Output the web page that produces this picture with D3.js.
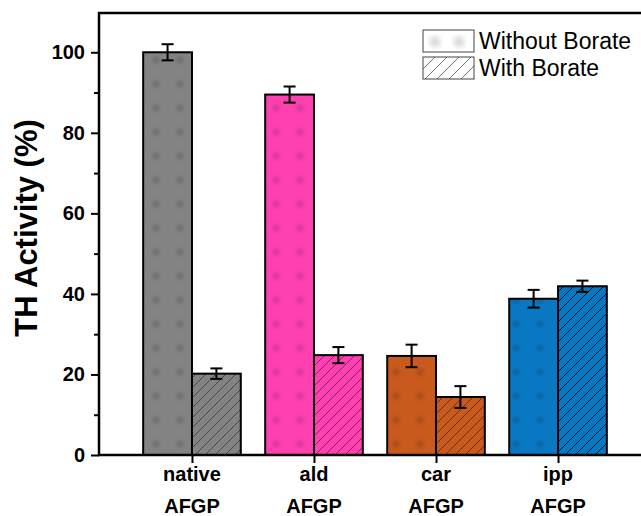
<!DOCTYPE html>
<html>
<head>
<meta charset="utf-8">
<script src="https://cdn.jsdelivr.net/npm/d3@7"></script>
<style>
  body { margin: 0; background: #fff; }
  text { font-family: "Liberation Sans", Arial, sans-serif; }
</style>
</head>
<body>
<div id="chart"></div>
<script>
var categories = ["native", "ald", "car", "ipp"];
var withoutBorate = [100, 89.5, 24.6, 38.8];
var withoutErr = [2.0, 2.0, 2.8, 2.2];
var withBorate = [20.2, 24.8, 14.4, 41.9];
var withErr = [1.3, 2.0, 2.7, 1.4];
var yTicks = [0, 20, 40, 60, 80, 100];
var colors = ["#838383", "#ff40b0", "#c85a1e", "#0a77c2"];
var hatchOpacity = [0.45, 0.45, 0.45, 0.85];

var svgWidth = 641;
var svgHeight = 516;

var svg = d3.select("#chart")
  .append("svg")
  .attr("width", svgWidth)
  .attr("height", svgHeight);

var defs = svg.append("defs");

// halftone dot pattern for "without"
var grad = defs.append("radialGradient").attr("id", "dotGrad");
grad.append("stop").attr("offset", "0%").attr("stop-color", "#000").attr("stop-opacity", 0.16);
grad.append("stop").attr("offset", "100%").attr("stop-color", "#000").attr("stop-opacity", 0);

colors.forEach(function(c, i) {
  var p = defs.append("pattern")
    .attr("id", "dots" + i)
    .attr("patternUnits", "userSpaceOnUse")
    .attr("width", 24).attr("height", 24);
  p.append("rect").attr("width", 24).attr("height", 24).attr("fill", c);
  p.append("circle").attr("cx", 12).attr("cy", 12).attr("r", 6).attr("fill", "url(#dotGrad)");

  var h = defs.append("pattern")
    .attr("id", "hatch" + i)
    .attr("patternUnits", "userSpaceOnUse")
    .attr("width", 10).attr("height", 10);
  h.append("rect").attr("width", 10).attr("height", 10).attr("fill", c);
  h.append("path")
    .attr("d", "M-1,1 l2,-2 M0,10 l10,-10 M9,11 l2,-2")
    .attr("stroke", "#000")
    .attr("stroke-opacity", hatchOpacity[i])
    .attr("stroke-width", 1);
});

var legDots = defs.append("pattern")
  .attr("id", "legDots")
  .attr("patternUnits", "userSpaceOnUse")
  .attr("width", 24).attr("height", 24);
legDots.append("rect").attr("width", 24).attr("height", 24).attr("fill", "#fff");
legDots.append("circle").attr("cx", 12).attr("cy", 12).attr("r", 9).attr("fill", "url(#dotGrad)");

var legHatch = defs.append("pattern")
  .attr("id", "legHatch")
  .attr("patternUnits", "userSpaceOnUse")
  .attr("width", 12).attr("height", 12);
legHatch.append("rect").attr("width", 12).attr("height", 12).attr("fill", "#fff");
legHatch.append("path")
  .attr("d", "M-1,1 l2,-2 M0,12 l12,-12 M11,13 l2,-2")
  .attr("stroke", "#777")
  .attr("stroke-width", 1);

var x = d3.scaleLinear().domain([0.238, 4.68]).range([99, 641]);
var y = d3.scaleLinear().domain([0, 110]).range([455, 12]);
var barW = 0.4;

// bars without borate
svg.selectAll(".barA")
  .data(withoutBorate)
  .enter()
  .append("rect")
  .attr("x", (d, i) => x(i + 1 - barW))
  .attr("y", d => y(d))
  .attr("width", (d, i) => x(i + 1) - x(i + 1 - barW))
  .attr("height", d => y(0) - y(d))
  .attr("fill", (d, i) => "url(#dots" + i + ")")
  .attr("stroke", "#000")
  .attr("stroke-width", 2);

// bars with borate
svg.selectAll(".barB")
  .data(withBorate)
  .enter()
  .append("rect")
  .attr("x", (d, i) => x(i + 1))
  .attr("y", d => y(d))
  .attr("width", (d, i) => x(i + 1 + barW) - x(i + 1))
  .attr("height", d => y(0) - y(d))
  .attr("fill", (d, i) => "url(#hatch" + i + ")")
  .attr("stroke", "#000")
  .attr("stroke-width", 2);

// error bars
function errBars(vals, errs, offset) {
  vals.forEach(function(v, i) {
    var cx = x(i + 1 + offset);
    var g = svg.append("g").attr("stroke", "#000").attr("stroke-width", 2);
    g.append("line").attr("x1", cx).attr("x2", cx).attr("y1", y(v - errs[i])).attr("y2", y(v + errs[i]));
    g.append("line").attr("x1", cx - 6).attr("x2", cx + 6).attr("y1", y(v - errs[i])).attr("y2", y(v - errs[i]));
    g.append("line").attr("x1", cx - 6).attr("x2", cx + 6).attr("y1", y(v + errs[i])).attr("y2", y(v + errs[i]));
  });
}
errBars(withoutBorate, withoutErr, -barW / 2);
errBars(withBorate, withErr, barW / 2);

// left axis
var leftAxis = d3.axisLeft(y).tickValues(yTicks).tickSize(8).tickPadding(6);
var gy = svg.append("g").attr("transform", "translate(99,0)").call(leftAxis);
gy.select(".domain").remove();
gy.selectAll(".tick line").attr("stroke-width", 2);
gy.selectAll(".tick text")
  .attr("font-size", 20).attr("font-weight", "bold").attr("fill", "#000")
  .style("font-family", "'Liberation Sans', Arial, sans-serif");

var minorAxis = d3.axisLeft(y).tickValues([10, 30, 50, 70, 90]).tickSize(5).tickFormat("");
var gm = svg.append("g").attr("transform", "translate(99,0)").call(minorAxis);
gm.select(".domain").remove();
gm.selectAll(".tick line").attr("stroke-width", 2);

svg.append("line").attr("x1", 99).attr("x2", 99).attr("y1", 12).attr("y2", 456)
  .attr("stroke", "#000").attr("stroke-width", 2.5);
svg.append("line").attr("x1", 98).attr("x2", 641).attr("y1", 13).attr("y2", 13)
  .attr("stroke", "#000").attr("stroke-width", 2.5);

// bottom axis
var bottomAxis = d3.axisBottom(x).tickValues([1, 2, 3, 4]).tickSize(8).tickFormat("");
var gx = svg.append("g").attr("transform", "translate(0,455)").call(bottomAxis);
gx.select(".domain").remove();
gx.selectAll(".tick line").attr("stroke-width", 2);
svg.append("line").attr("x1", 98).attr("x2", 641).attr("y1", 455).attr("y2", 455)
  .attr("stroke", "#000").attr("stroke-width", 2.5);

svg.selectAll(".catLabel")
  .data(categories)
  .enter()
  .append("text")
  .attr("x", (d, i) => x(i + 1))
  .attr("y", 481)
  .attr("text-anchor", "middle")
  .attr("font-size", 20)
  .attr("font-weight", "bold")
  .text(d => d);
svg.selectAll(".catLabel2")
  .data(categories)
  .enter()
  .append("text")
  .attr("x", (d, i) => x(i + 1))
  .attr("y", 513)
  .attr("text-anchor", "middle")
  .attr("font-size", 20)
  .attr("font-weight", "bold")
  .text("AFGP");

// y axis title
svg.append("text")
  .attr("transform", "translate(37,228) rotate(-90)")
  .attr("text-anchor", "middle")
  .attr("font-size", 31)
  .attr("font-weight", "bold")
  .text("TH Activity (%)");

// legend
var legend = [{label: "Without Borate", fill: "url(#legDots)"}, {label: "With Borate", fill: "url(#legHatch)"}];
var lg = svg.selectAll(".leg").data(legend).enter().append("g")
  .attr("transform", (d, i) => "translate(423," + (30 + i * 27) + ")");
lg.append("rect").attr("width", 51).attr("height", 22)
  .attr("fill", d => d.fill).attr("stroke", "#444").attr("stroke-width", 1);
lg.append("text").attr("x", 56).attr("y", 19).attr("font-size", 23).text(d => d.label);
</script>
</body>
</html>
